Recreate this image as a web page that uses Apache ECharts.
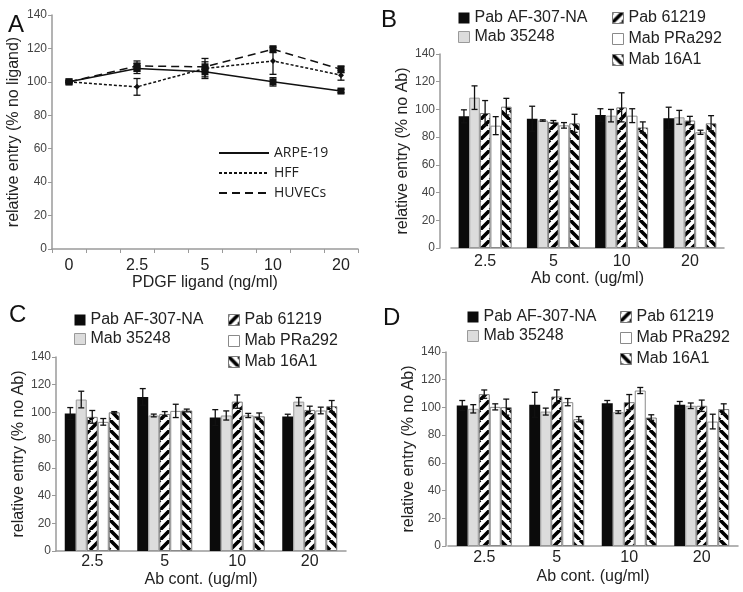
<!DOCTYPE html>
<html>
<head>
<meta charset="utf-8">
<script src="https://cdn.jsdelivr.net/npm/echarts@6/dist/echarts.min.js"></script>
<style>
html, body { margin: 0; padding: 0; background: #fff; }
#main { width: 743px; height: 592px; }
</style>
</head>
<body>
<div id="main"></div>
<script>
// ---- panel A : PDGF ligand ----
var ligandDoses = ['0', '2.5', '5', '10', '20'];
var arpeMean = [100, 108, 106, 100, 94.5];
var arpeErr = [0.5, 3, 3, 2.5, 1];
var hffMean = [100, 97, 108, 112.5, 104];
var hffErr = [0.5, 5, 6, 8, 3];
var huvecMean = [100, 109.5, 109, 119.5, 107.5];
var huvecErr = [0.5, 3, 3, 2, 2];

// ---- panels B, C, D : antibodies ----
var abDoses = ['2.5', '5', '10', '20'];
var abNames = ['Pab AF-307-NA', 'Mab 35248', 'Pab 61219', 'Mab PRa292', 'Mab 16A1'];

var pabAF_B = [95, 93.3, 96, 93.6];
var pabAF_B_err = [4.7, 9, 4.5, 8];
var mab35248_B = [108.5, 92, 95.5, 94.3];
var mab35248_B_err = [8.5, 0.5, 4.5, 5];
var pab61219_B = [97.4, 91, 101.5, 92];
var pab61219_B_err = [9, 1, 10.5, 3];
var mabPRa292_B = [88.3, 88.5, 95.5, 83.5];
var mabPRa292_B_err = [6.5, 2, 5, 1.5];
var mab16A1_B = [102, 90, 87, 90];
var mab16A1_B_err = [6, 6.5, 4, 5.5];

var pabAF_C = [99.2, 111.2, 96.3, 97];
var pabAF_C_err = [4.3, 6, 5.7, 1.7];
var mab35248_C = [109.3, 97.8, 97.8, 107.8];
var mab35248_C_err = [6, 1, 3.3, 3];
var pab61219_C = [96.8, 98.9, 107.8, 101.8];
var pab61219_C_err = [4.6, 1.7, 4.8, 2.7];
var mabPRa292_C = [93.2, 101.1, 97.8, 101.4];
var mabPRa292_C_err = [2.4, 4.8, 1.5, 2.4];
var mab16A1_C = [100.1, 101.4, 97.2, 104.5];
var mab16A1_C_err = [0.5, 1, 2.4, 4.1];

var pabAF_D = [101.4, 101.9, 103.1, 101.9];
var pabAF_D_err = [3.6, 9, 1.9, 2.4];
var mab35248_D = [99, 97, 96.6, 101.2];
var mab35248_D_err = [3, 2.5, 1, 2];
var pab61219_D = [109.6, 107.9, 103.8, 101.2];
var pab61219_D_err = [3, 4.8, 5.5, 4.1];
var mabPRa292_D = [100.4, 103.8, 112.2, 89.8];
var mabPRa292_D_err = [2.2, 2.6, 2.2, 5.3];
var mab16A1_D = [100.2, 91.5, 92.7, 98.8];
var mab16A1_D_err = [5.8, 1.9, 2, 3.8];

var FONT = '"Liberation Sans", Arial, sans-serif';
var AXIS_GRAY = '#9a9a9a';

// diagonal stripes for the hatched bars
function stripePattern(rising) {
    var s = 10;
    var c = document.createElement('canvas');
    c.width = s; c.height = s;
    var g = c.getContext('2d');
    g.fillStyle = '#ffffff';
    g.fillRect(0, 0, s, s);
    g.strokeStyle = '#000000';
    g.lineWidth = 3.6;
    g.beginPath();
    for (var k = -1; k <= 1; k++) {
        if (rising) { g.moveTo(k * s, s); g.lineTo(k * s + s, 0); }
        else { g.moveTo(k * s, 0); g.lineTo(k * s + s, s); }
    }
    g.stroke();
    return c;
}

var barStyles = [
    {color: '#0b0b0b', borderWidth: 0},
    {color: '#dcdcdc', borderColor: '#9a9a9a', borderWidth: 1},
    {color: {image: stripePattern(true), repeat: 'repeat'}, borderColor: '#7a7a7a', borderWidth: 1},
    {color: '#ffffff', borderColor: '#8a8a8a', borderWidth: 1},
    {color: {image: stripePattern(false), repeat: 'repeat'}, borderColor: '#7a7a7a', borderWidth: 1}
];

// error bar drawn at the category centre + a pixel offset
function errorBars(offset, capHalf) {
    return function (params, api) {
        var x = api.value(0), v = api.value(1), e = api.value(2);
        var hi = api.coord([x, v + e]);
        var lo = api.coord([x, v - e]);
        var cx = hi[0] + offset;
        var st = {stroke: '#111', lineWidth: 1.3};
        return {
            type: 'group',
            children: [
                {type: 'line', shape: {x1: cx, y1: hi[1], x2: cx, y2: lo[1]}, style: st},
                {type: 'line', shape: {x1: cx - capHalf, y1: hi[1], x2: cx + capHalf, y2: hi[1]}, style: st},
                {type: 'line', shape: {x1: cx - capHalf, y1: lo[1], x2: cx + capHalf, y2: lo[1]}, style: st}
            ]
        };
    };
}

function yAxisFor(gridIndex, name, gap, offset) {
    return {
        type: 'value', gridIndex: gridIndex, min: 0, max: 140, interval: 20,
        offset: offset || 0,
        name: name, nameLocation: 'middle', nameGap: gap,
        nameTextStyle: {fontSize: 16, color: '#222', fontFamily: FONT},
        axisLine: {show: true, lineStyle: {color: AXIS_GRAY, width: 1.5}},
        axisTick: {show: true, length: 4, lineStyle: {color: AXIS_GRAY}},
        axisLabel: {fontSize: 12, color: '#444', margin: 5, fontFamily: FONT},
        splitLine: {show: false}
    };
}

var grids = [
    {left: 52, top: 15, width: 306, height: 234},
    {left: 451, top: 54, width: 273, height: 194},
    {left: 56, top: 357, width: 290, height: 194},
    {left: 448, top: 352, width: 290, height: 194}
];

// panel A uses 9 slots so the ticks fall like the original
var slotLabels = [];
ligandDoses.forEach(function (d, i) {
    slotLabels.push(d);
    if (i < ligandDoses.length - 1) slotLabels.push('');
});
function toSlots(arr) {
    var out = [];
    arr.forEach(function (v, i) {
        out.push(v);
        if (i < arr.length - 1) out.push(null);
    });
    return out;
}
function errData(means, errs, step) {
    return means.map(function (v, i) { return [i * step, v, errs[i]]; });
}

var xAxes = [{
    type: 'category', gridIndex: 0, data: slotLabels, boundaryGap: true,
    name: 'PDGF ligand (ng/ml)', nameLocation: 'middle', nameGap: 26,
    nameTextStyle: {fontSize: 16, color: '#222', fontFamily: FONT},
    axisLine: {lineStyle: {color: AXIS_GRAY, width: 1.5}},
    axisTick: {show: true, length: 4, interval: 0, lineStyle: {color: AXIS_GRAY}},
    axisLabel: {interval: 0, fontSize: 16, color: '#222', margin: 9, fontFamily: FONT}
}];
var yAxes = [yAxisFor(0, 'relative entry (% no ligand)', 30)];

var series = [
    {name: 'ARPE-19', type: 'line', xAxisIndex: 0, yAxisIndex: 0, data: toSlots(arpeMean), connectNulls: true,
        symbol: 'rect', symbolSize: 7, itemStyle: {color: '#111'}, lineStyle: {color: '#111', width: 1.5, type: 'solid'}},
    {name: 'HFF', type: 'line', xAxisIndex: 0, yAxisIndex: 0, data: toSlots(hffMean), connectNulls: true,
        symbol: 'diamond', symbolSize: 6, itemStyle: {color: '#111'}, lineStyle: {color: '#111', width: 1.5, type: [3, 2]}},
    {name: 'HUVECs', type: 'line', xAxisIndex: 0, yAxisIndex: 0, data: toSlots(huvecMean), connectNulls: true,
        symbol: 'rect', symbolSize: 7, itemStyle: {color: '#111'}, lineStyle: {color: '#111', width: 1.5, type: [8, 5]}}
];
[[arpeMean, arpeErr], [hffMean, hffErr], [huvecMean, huvecErr]].forEach(function (p) {
    series.push({
        type: 'custom', xAxisIndex: 0, yAxisIndex: 0, z: 5,
        renderItem: errorBars(0, 3.5), data: errData(p[0], p[1], 2), encode: {x: 0, y: 1}
    });
});

var legends = [{
    orient: 'vertical', left: 218, top: 146, padding: 0, itemWidth: 50, itemHeight: 14, itemGap: 6,
    selectedMode: false, data: ['ARPE-19', 'HFF', 'HUVECs'],
    itemStyle: {opacity: 0},
    textStyle: {fontSize: 14, color: '#222', fontFamily: '"Open Sans", sans-serif'}
}];

// one bar panel (B, C or D)
function barPanel(gi, panel, opts) {
    xAxes.push({
        type: 'category', gridIndex: gi, data: abDoses,
        name: 'Ab cont. (ug/ml)', nameLocation: 'middle', nameGap: opts.nameGap,
        nameTextStyle: {fontSize: 16, color: '#222', fontFamily: FONT},
        axisLine: {lineStyle: {color: AXIS_GRAY, width: 1.5}},
        axisTick: {show: false},
        axisLabel: {fontSize: 16, color: '#222', margin: opts.labelMargin, fontFamily: FONT}
    });
    yAxes.push(yAxisFor(gi, 'relative entry (% no Ab)', opts.yGap, opts.yOffset));
    var w = opts.barWidth;
    panel.forEach(function (p, i) {
        series.push({
            name: abNames[i], type: 'bar', xAxisIndex: gi, yAxisIndex: gi,
            data: p[0], barWidth: w, barGap: '0%',
            itemStyle: barStyles[i]
        });
        series.push({
            type: 'custom', xAxisIndex: gi, yAxisIndex: gi, z: 5,
            renderItem: errorBars((i - 2) * w, 3), data: errData(p[0], p[1], 1), encode: {x: 0, y: 1}
        });
    });
    var lg = {
        orient: 'vertical', itemWidth: 11, itemHeight: 11, itemGap: 3, icon: 'rect', padding: 0,
        selectedMode: false, top: opts.legendTop,
        itemStyle: {borderWidth: 1},
        textStyle: {fontSize: 16, color: '#222', fontFamily: FONT}
    };
    legends.push(Object.assign({}, lg, {left: opts.leg1, data: abNames.slice(0, 2)}));
    legends.push(Object.assign({}, lg, {left: opts.leg2, itemGap: 5, data: abNames.slice(2)}));
}

barPanel(1, [[pabAF_B, pabAF_B_err], [mab35248_B, mab35248_B_err], [pab61219_B, pab61219_B_err],
    [mabPRa292_B, mabPRa292_B_err], [mab16A1_B, mab16A1_B_err]],
    {barWidth: 10.6, nameGap: 22, labelMargin: 6, yGap: 29, yOffset: 11, legendTop: 10, leg1: 458, leg2: 612});
barPanel(2, [[pabAF_C, pabAF_C_err], [mab35248_C, mab35248_C_err], [pab61219_C, pab61219_C_err],
    [mabPRa292_C, mabPRa292_C_err], [mab16A1_C, mab16A1_C_err]],
    {barWidth: 11, nameGap: 21, labelMargin: 3, yGap: 26, yOffset: 0, legendTop: 312, leg1: 74, leg2: 228});
barPanel(3, [[pabAF_D, pabAF_D_err], [mab35248_D, mab35248_D_err], [pab61219_D, pab61219_D_err],
    [mabPRa292_D, mabPRa292_D_err], [mab16A1_D, mab16A1_D_err]],
    {barWidth: 11, nameGap: 23, labelMargin: 4, yGap: 28, yOffset: 2, legendTop: 309, leg1: 467, leg2: 620});

var letterStyle = {fontSize: 24, fontWeight: 'normal', color: '#111', fontFamily: FONT};
var option = {
    animation: false,
    backgroundColor: '#fff',
    title: [
        {text: 'A', left: 3, top: 8, textStyle: letterStyle},
        {text: 'B', left: 376, top: 3, textStyle: letterStyle},
        {text: 'C', left: 4, top: 298, textStyle: letterStyle},
        {text: 'D', left: 378, top: 301, textStyle: letterStyle}
    ],
    grid: grids,
    legend: legends,
    xAxis: xAxes,
    yAxis: yAxes,
    series: series
};

var myChart = echarts.init(document.getElementById('main'));
myChart.setOption(option);
</script>
</body>
</html>
